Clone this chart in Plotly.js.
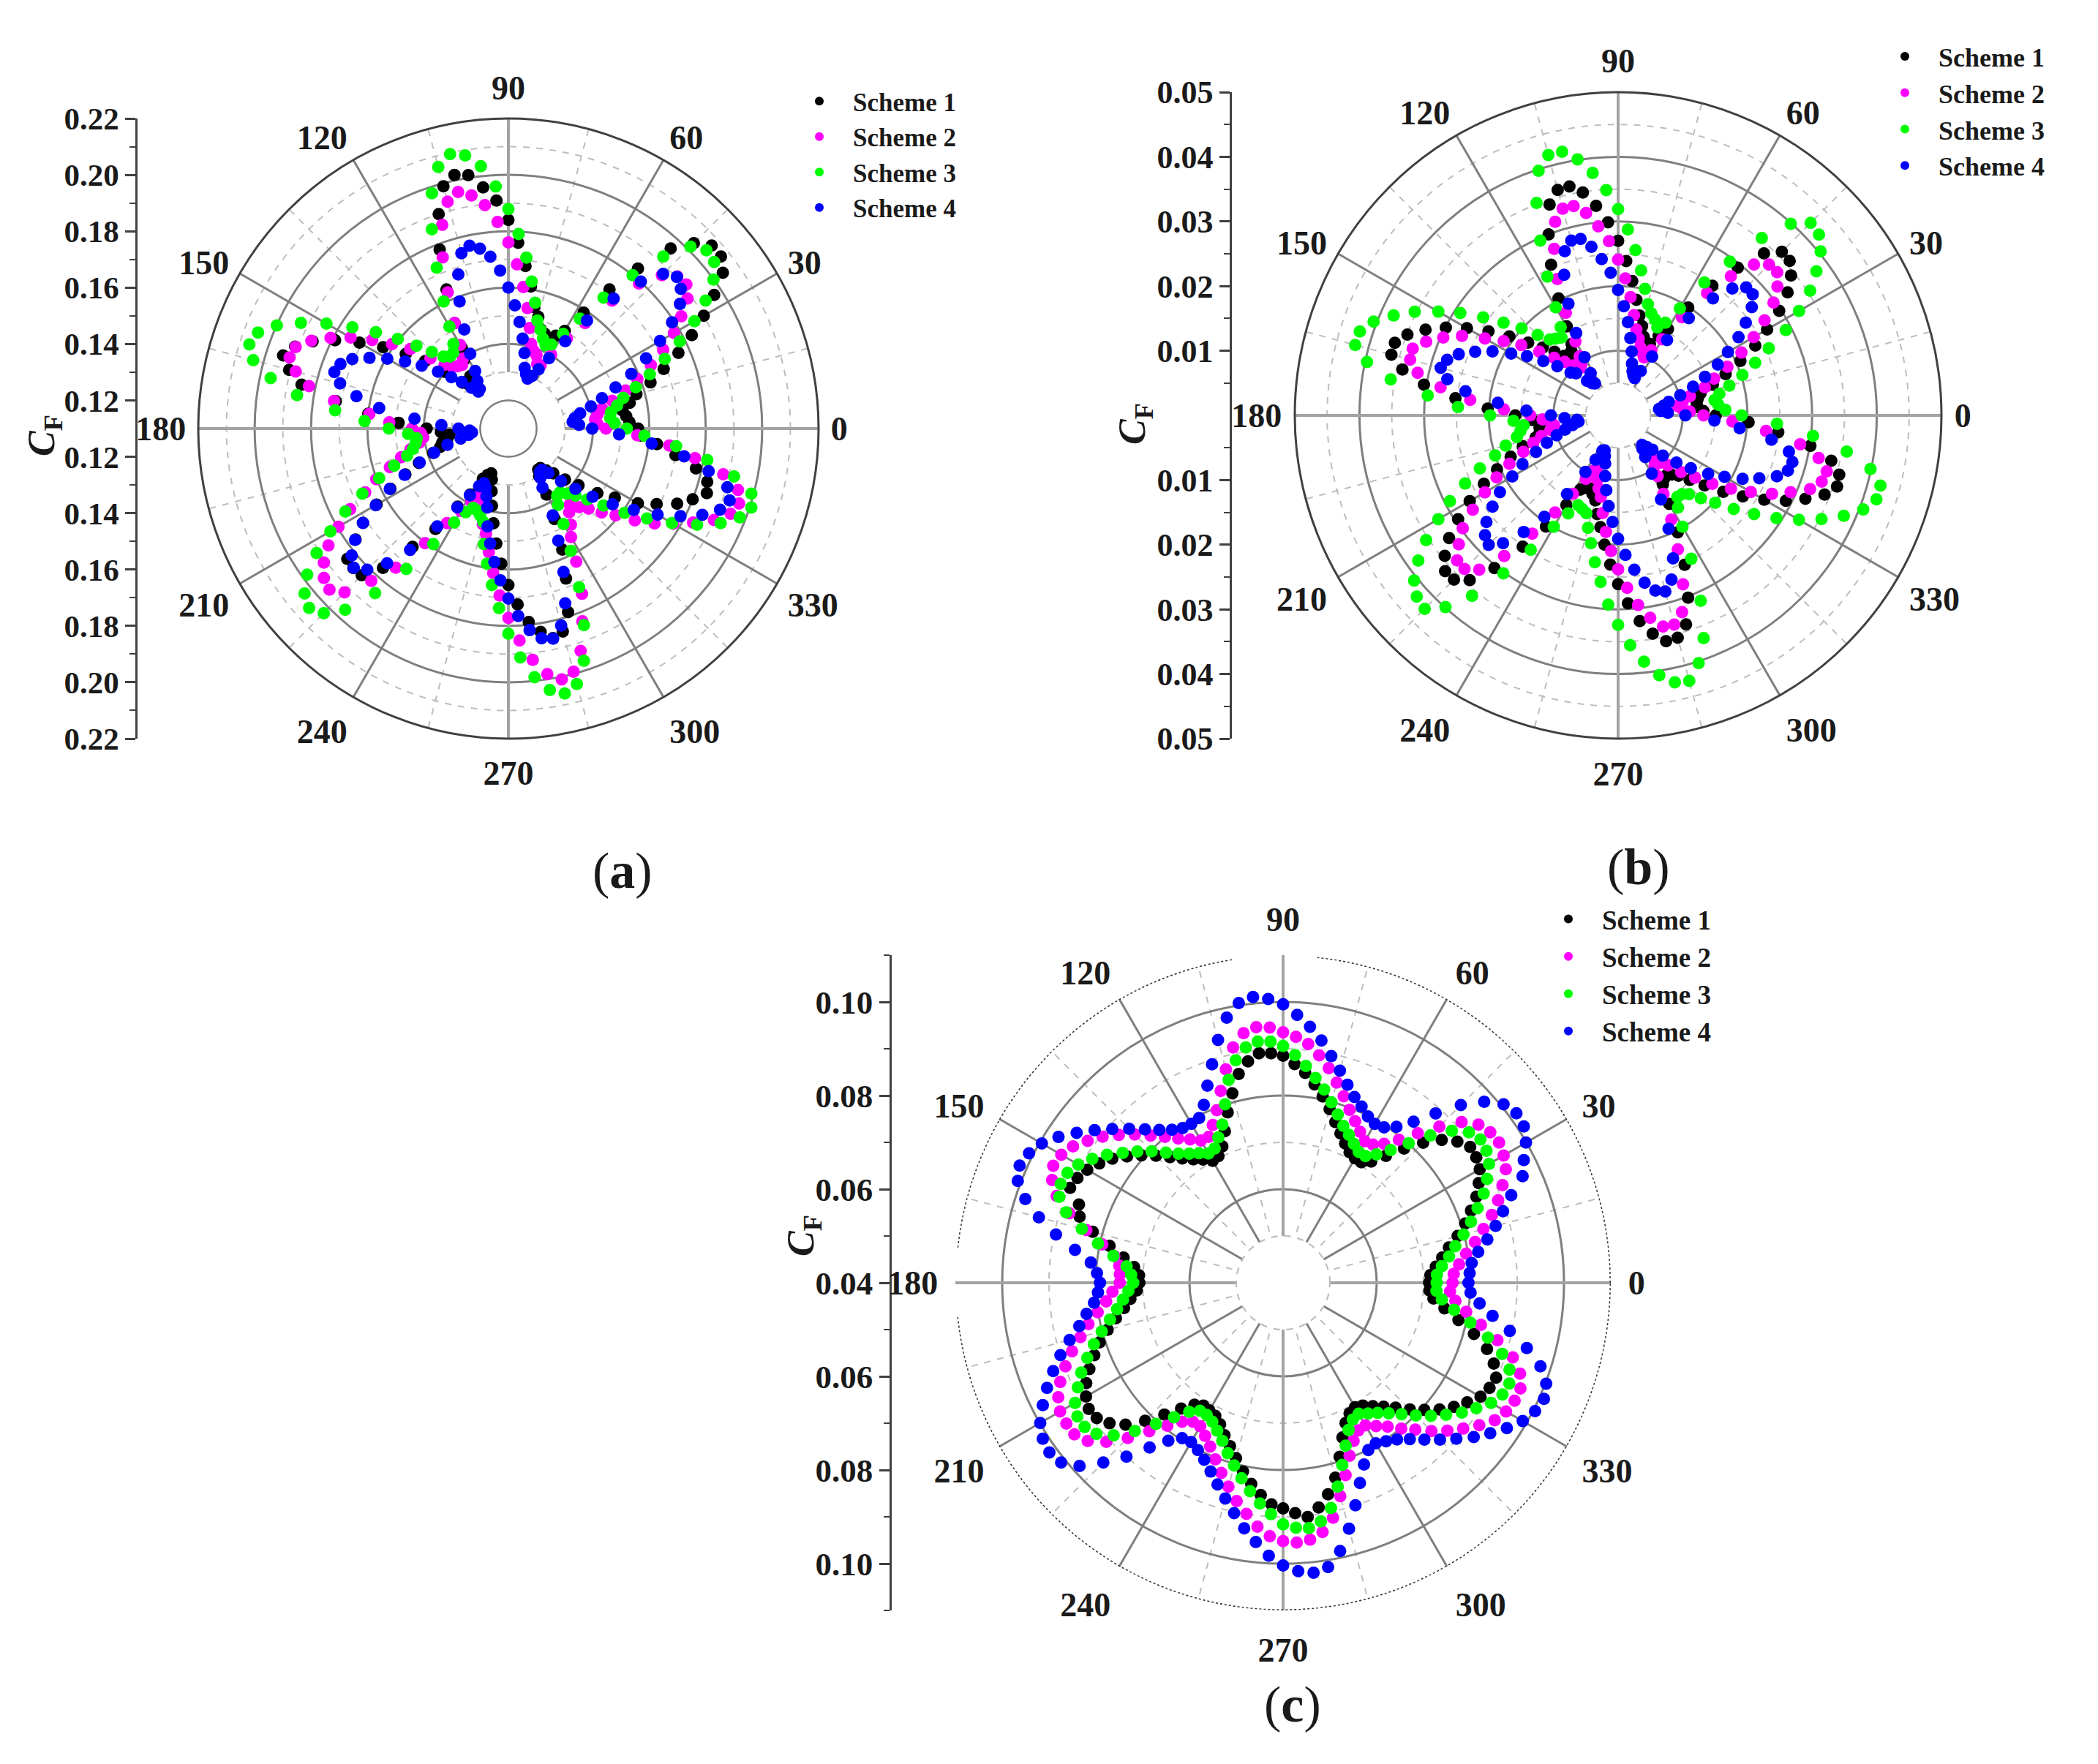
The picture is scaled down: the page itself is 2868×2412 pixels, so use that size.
<!DOCTYPE html>
<html>
<head>
<meta charset="utf-8">
<script src="https://cdn.plot.ly/plotly-3.0.1.min.js"></script>
<style>body{margin:0;background:#fff}</style>
</head>
<body>
<div id="chart" style="width:2868px;height:2412px"></div>
<script>
//------------------------------------------------------------------------------
// Data: CF against blade angle, one value every 3 degrees
//------------------------------------------------------------------------------
var angles = [0,3,6,9,12,15,18,21,24,27,30,33,36,39,42,45,48,51,54,57,
  60,63,66,69,72,75,78,81,84,87,90,93,96,99,102,105,108,111,114,117,
  120,123,126,129,132,135,138,141,144,147,150,153,156,159,162,165,168,171,174,177,
  180,183,186,189,192,195,198,201,204,207,210,213,216,219,222,225,228,231,234,237,
  240,243,246,249,252,255,258,261,264,267,270,273,276,279,282,285,288,291,294,297,
  300,303,306,309,312,315,318,321,324,327,330,333,336,339,342,345,348,351,354,357];

var schemes = ["Scheme 1", "Scheme 2", "Scheme 3", "Scheme 4"];
var angleTicks = [0,30,60,90,120,150,180,210,240,270,300,330];
var angleLabels = ["0","30","60","90","120","150","180","210","240","270","300","330"];
var crossAngles = [0,90,180,270];

// panel (a)
var a1 = [.156,.153,.152,.151,.154,.157,.163,.169,.176,.183,.190,.197,.204,.207,.207,.203,.196,.183,.171,.159,
  .150,.147,.145,.146,.147,.151,.154,.161,.168,.176,.184,.191,.196,.201,.202,.199,.190,.178,.164,.152,
  .143,.139,.133,.130,.131,.133,.140,.148,.155,.163,.171,.179,.186,.191,.194,.1905,.185,.172,.160,.149,
  .139,.134,.131,.132,.134,.135,.138,.144,.150,.157,.164,.1715,.177,.1835,.184,.1836,.1765,.164,.154,.143,
  .137,.130,.128,.127,.129,.133,.138,.144,.151,.158,.1655,.1725,.179,.183,.186,.1845,.1785,.167,.157,.146,
  .137,.130,.128,.128,.130,.1325,.137,.142,.149,.155,.163,.169,.1755,.180,.184,.183,.178,.170,.163,.157];
var a2 = [.1446,.1416,.1409,.1420,.1440,.1481,.1537,.1590,.1653,.1716,.1778,.1831,.1885,.1912,.1906,.1870,.1792,.1684,.1563,.1481,
  .1403,.1352,.1351,.1378,.1390,.1411,.1465,.1533,.1605,.1683,.1760,.1834,.1897,.1937,.1958,.1933,.1860,.1750,.1629,.1520,
  .1442,.1396,.1379,.1385,.1396,.1420,.1472,.1548,.1610,.1676,.1746,.1808,.1865,.1908,.1916,.1881,.1823,.1726,.1596,.1523,
  .1442,.1411,.1404,.1420,.1455,.1494,.1542,.1602,.1656,.1730,.1796,.1861,.1909,.1942,.1954,.1922,.1827,.1735,.1603,.1500,
  .1437,.1390,.1366,.1360,.1390,.1451,.1482,.1544,.1615,.1693,.1772,.1853,.1925,.1982,.2010,.1993,.1929,.1832,.1742,.1630,
  .1544,.1507,.1467,.1446,.1475,.1502,.1545,.1589,.1654,.1718,.1775,.1835,.1898,.1944,.1960,.1943,.1879,.1770,.1674,.1558];
var a3 = [.1520,.1477,.1463,.1468,.1494,.1522,.1575,.1637,.1707,.1782,.1862,.1934,.1999,.2039,.2045,.2013,.1921,.1800,.1674,.1565,
  .1488,.1435,.1424,.1442,.1468,.1497,.1556,.1628,.1710,.1791,.1879,.1960,.2036,.2081,.2095,.2061,.1978,.1857,.1725,.1606,
  .1518,.1458,.1433,.1429,.1444,.1484,.1539,.1605,.1681,.1760,.1845,.1926,.1999,.2051,.2066,.2037,.1962,.1859,.1718,.1611,
  .1524,.1456,.1427,.1433,.1446,.1472,.1526,.1591,.1667,.1749,.1829,.1911,.1982,.2030,.2051,.2026,.1965,.1851,.1716,.1589,
  .1485,.1433,.1408,.1411,.1424,.1443,.1519,.1585,.1658,.1738,.1828,.1913,.1987,.2039,.2061,.2038,.1966,.1847,.1716,.1587,
  .1491,.1423,.1394,.1391,.1411,.1437,.1476,.1534,.1609,.1686,.1770,.1851,.1924,.1979,.2006,.1992,.1918,.1814,.1698,.1583];
var a4 = [.1397,.1351,.1329,.1338,.1360,.1403,.1449,.1507,.1577,.1648,.1721,.1792,.1852,.1887,.1904,.1876,.1802,.1693,.1574,.1470,
  .1388,.1336,.1304,.1290,.1303,.1323,.1374,.1423,.1480,.1538,.1600,.1661,.1713,.1746,.1763,.1744,.1675,.1583,.1485,.1398,
  .1336,.1302,.1273,.1269,.1295,.1334,.1372,.1421,.1480,.1537,.1596,.1653,.1706,.1738,.1749,.1718,.1651,.1564,.1435,.1338,
  .1277,.1238,.1230,.1243,.1273,.1324,.1377,.1437,.1503,.1572,.1643,.1715,.1772,.1815,.1838,.1808,.1743,.1654,.1529,.1433,
  .1373,.1329,.1312,.1325,.1352,.1390,.1455,.1513,.1576,.1639,.1703,.1766,.1819,.1853,.1862,.1823,.1752,.1645,.1535,.1446,
  .1342,.1308,.1290,.1289,.1312,.1364,.1420,.1484,.1557,.1630,.1711,.1785,.1853,.1904,.1925,.1904,.1826,.1731,.1611,.1493];

// panel (b)
var b1 = [.0151,.0132,.0123,.0123,.0126,.0132,.0154,.0178,.0207,.0238,.0266,.0297,.0324,.0344,.0357,.0358,.0337,.0294,.0248,.0199,
  .0154,.0138,.0121,.0121,.0128,.0143,.0158,.0181,.0209,.0239,.0270,.0299,.0326,.0349,.0362,.0361,.0343,.0300,.0255,.0203,
  .0159,.0132,.0123,.0117,.0124,.0139,.0157,.0179,.0208,.0239,.0270,.0299,.0326,.0349,.0363,.0363,.0341,.0304,.0253,.0202,
  .0159,.0133,.0122,.0123,.0124,.0132,.0155,.0178,.0205,.0233,.0265,.0295,.0323,.0345,.0360,.0359,.0343,.0304,.0251,.0205,
  .0160,.0129,.0123,.0121,.0128,.0136,.0156,.0175,.0201,.0231,.0261,.0291,.0320,.0342,.0357,.0356,.0340,.0302,.0253,.0203,
  .0158,.0127,.0121,.0119,.0123,.0132,.0149,.0172,.0201,.0230,.0261,.0291,.0317,.0342,.0356,.0354,.0337,.0301,.0249,.0202];
var b2 = [.0132,.0111,.0099,.0093,.0102,.0115,.0141,.0159,.0185,.0214,.0242,.0270,.0297,.0317,.0331,.0330,.0314,.0277,.0234,.0181,
  .0136,.0113,.0098,.0104,.0111,.0123,.0136,.0157,.0184,.0212,.0241,.0270,.0294,.0317,.0331,.0331,.0315,.0276,.0231,.0178,
  .0132,.0109,.0097,.0094,.0104,.0117,.0133,.0157,.0185,.0211,.0238,.0271,.0296,.0318,.0334,.0333,.0317,.0278,.0230,.0177,
  .0136,.0117,.0104,.0100,.0107,.0123,.0138,.0157,.0184,.0211,.0238,.0268,.0297,.0317,.0335,.0336,.0321,.0280,.0226,.0179,
  .0140,.0110,.0094,.0092,.0104,.0117,.0129,.0153,.0181,.0210,.0238,.0267,.0295,.0317,.0334,.0335,.0320,.0280,.0227,.0181,
  .0140,.0112,.0096,.0090,.0098,.0109,.0131,.0153,.0180,.0208,.0237,.0267,.0292,.0318,.0331,.0334,.0317,.0285,.0230,.0177];
var b3 = [.0191,.0166,.0156,.0151,.0160,.0178,.0202,.0227,.0255,.0291,.0323,.0354,.0379,.0403,.0418,.0421,.0399,.0353,.0294,.0245,
  .0191,.0161,.0149,.0159,.0166,.0178,.0200,.0227,.0257,.0288,.0319,.0349,.0377,.0401,.0417,.0417,.0398,.0352,.0296,.0241,
  .0193,.0163,.0149,.0153,.0158,.0176,.0201,.0228,.0258,.0291,.0321,.0353,.0380,.0405,.0420,.0421,.0397,.0356,.0296,.0248,
  .0198,.0162,.0147,.0153,.0160,.0180,.0200,.0229,.0259,.0292,.0321,.0354,.0382,.0406,.0419,.0423,.0399,.0359,.0302,.0248,
  .0199,.0170,.0152,.0155,.0159,.0180,.0202,.0230,.0259,.0293,.0324,.0356,.0383,.0407,.0422,.0425,.0403,.0369,.0314,.0249,
  .0199,.0170,.0156,.0157,.0164,.0181,.0202,.0230,.0260,.0292,.0323,.0353,.0382,.0406,.0420,.0420,.0399,.0358,.0303,.0246];
var b4 = [.0104,.0077,.0066,.0064,.0072,.0081,.0101,.0124,.0147,.0173,.0196,.0222,.0244,.0266,.0280,.0280,.0264,.0233,.0186,.0139,
  .0105,.0077,.0063,.0066,.0072,.0083,.0101,.0121,.0145,.0169,.0194,.0221,.0243,.0264,.0279,.0280,.0267,.0233,.0189,.0143,
  .0104,.0078,.0061,.0064,.0072,.0092,.0099,.0121,.0143,.0168,.0191,.0218,.0242,.0264,.0278,.0284,.0270,.0239,.0187,.0142,
  .0104,.0083,.0064,.0062,.0072,.0085,.0100,.0118,.0139,.0166,.0189,.0218,.0240,.0262,.0277,.0283,.0266,.0232,.0194,.0145,
  .0101,.0077,.0060,.0058,.0066,.0077,.0096,.0117,.0141,.0165,.0191,.0216,.0240,.0262,.0277,.0282,.0267,.0237,.0192,.0146,
  .0104,.0077,.0064,.0059,.0066,.0075,.0093,.0116,.0139,.0166,.0190,.0216,.0239,.0263,.0276,.0279,.0270,.0240,.0189,.0149];

// panel (c)
var c1 = [.0712,.0715,.0728,.0744,.0762,.0786,.0809,.0830,.0852,.0869,.0885,.0892,.0894,.0879,.0856,.0823,.0786,.0749,.0720,.0707,
  .0707,.0713,.0726,.0742,.0761,.0784,.0807,.0829,.0851,.0868,.0885,.0891,.0893,.0879,.0856,.0819,.0783,.0747,.0719,.0704,
  .0701,.0714,.0726,.0742,.0761,.0784,.0807,.0829,.0851,.0868,.0883,.0893,.0898,.0867,.0857,.0821,.0779,.0745,.0720,.0708,
  .0707,.0713,.0728,.0744,.0765,.0788,.0812,.0832,.0853,.0872,.0886,.0895,.0892,.0877,.0853,.0817,.0779,.0746,.0722,.0713,
  .0715,.0719,.0731,.0749,.0767,.0788,.0812,.0835,.0856,.0874,.0882,.0893,.0903,.0886,.0862,.0831,.0791,.0754,.0728,.0713,
  .0707,.0713,.0726,.0741,.0759,.0783,.0806,.0830,.0851,.0869,.0887,.0895,.0898,.0882,.0858,.0822,.0783,.0749,.0723,.0713];
var c2 = [.0762,.0765,.0778,.0796,.0819,.0843,.0869,.0892,.0913,.0934,.0944,.0950,.0947,.0937,.0913,.0872,.0830,.0793,.0767,.0752,
  .0749,.0762,.0778,.0796,.0819,.0843,.0869,.0892,.0913,.0926,.0935,.0946,.0949,.0940,.0914,.0872,.0831,.0795,.0769,.0750,
  .0751,.0765,.0781,.0801,.0823,.0848,.0872,.0896,.0916,.0935,.0947,.0951,.0940,.0918,.0880,.0835,.0795,.0765,.0752,.0749,
  .0749,.0765,.0780,.0801,.0825,.0848,.0874,.0898,.0921,.0939,.0950,.0952,.0951,.0937,.0908,.0869,.0827,.0793,.0767,.0754,
  .0754,.0767,.0783,.0804,.0827,.0851,.0877,.0900,.0924,.0942,.0952,.0956,.0952,.0939,.0913,.0872,.0832,.0796,.0770,.0754,
  .0752,.0765,.0780,.0801,.0822,.0848,.0872,.0895,.0918,.0939,.0950,.0955,.0955,.0942,.0916,.0874,.0832,.0796,.0770,.0757];
var c3 = [.0728,.0729,.0741,.0759,.0776,.0799,.0822,.0845,.0869,.0889,.0908,.0918,.0921,.0911,.0885,.0845,.0801,.0765,.0739,.0723,
  .0723,.0733,.0746,.0759,.0778,.0799,.0822,.0843,.0866,.0887,.0906,.0916,.0918,.0909,.0886,.0849,.0801,.0762,.0740,.0722,
  .0719,.0730,.0741,.0755,.0774,.0797,.0819,.0841,.0865,.0886,.0905,.0917,.0920,.0912,.0887,.0845,.0804,.0767,.0736,.0725,
  .0720,.0731,.0744,.0759,.0778,.0801,.0825,.0848,.0872,.0892,.0913,.0924,.0924,.0913,.0887,.0848,.0806,.0770,.0741,.0726,
  .0726,.0733,.0746,.0762,.0783,.0804,.0827,.0851,.0874,.0895,.0916,.0924,.0927,.0916,.0892,.0851,.0809,.0773,.0744,.0728,
  .0723,.0733,.0744,.0759,.0778,.0801,.0825,.0848,.0872,.0892,.0913,.0926,.0929,.0918,.0892,.0853,.0809,.0770,.0741,.0728];
var c4 = [.0796,.0799,.0805,.0822,.0846,.0870,.0894,.0922,.0960,.0977,.0999,.1013,.1016,.1006,.0978,.0937,.0887,.0843,.0812,.0796,
  .0792,.0799,.0812,.0825,.0845,.0869,.0895,.0924,.0950,.0973,.0995,.1007,.1014,.1005,.0979,.0937,.0891,.0851,.0816,.0795,
  .0792,.0794,.0804,.0820,.0841,.0865,.0891,.0918,.0945,.0972,.0995,.1009,.1016,.1007,.0979,.0940,.0896,.0850,.0813,.0798,
  .0791,.0796,.0806,.0825,.0845,.0872,.0900,.0926,.0952,.0976,.0999,.1012,.1017,.1010,.0985,.0943,.0900,.0853,.0817,.0796,
  .0793,.0801,.0814,.0832,.0853,.0877,.0903,.0931,.0957,.0984,.1004,.1017,.1023,.1015,.0986,.0944,.0900,.0858,.0825,.0801,
  .0796,.0804,.0814,.0830,.0851,.0874,.0898,.0924,.0947,.0970,.0991,.1004,.1010,.1002,.0978,.0939,.0895,.0853,.0822,.0801];

// left hand scales: labelled values and the small ticks between them
var aLabels = [.22,.20,.18,.16,.14,.12];
var aMinor = [.21,.19,.17,.15,.13];
var bLabels = [.05,.04,.03,.02,.01];
var bMinor = [.045,.035,.025,.015,.005];
var cLabels = [.10,.08,.06,.04];
var cMinor = [.11,.09,.07,.05];

//------------------------------------------------------------------------------
// Page geometry and styles
//------------------------------------------------------------------------------
var W = 2868, H = 2412;
var colors = ["#000000", "#ff00ff", "#00ff00", "#0000ff"];
var serif = "Liberation Serif";
var black = "#1a1a1a";

var data = [];
var layout = {
  width: W, height: H,
  margin: { l: 0, r: 0, t: 0, b: 0 },
  paper_bgcolor: "white", plot_bgcolor: "rgba(0,0,0,0)",
  showlegend: true,
  annotations: []
};

function domainX(cx, R) { return [(cx - R) / W, (cx + R) / W]; }
function domainY(cy, R) { return [1 - (cy + R) / H, 1 - (cy - R) / H]; }

function addPanel(p) {
  var under = "polar" + (p.index * 2 - 1 === 1 ? "" : p.index * 2 - 1);
  var top = "polar" + (p.index * 2);
  var legendName = "legend" + (p.index === 1 ? "" : p.index);
  var xName = "x" + (p.index === 1 ? "" : p.index);
  var yName = "y" + (p.index === 1 ? "" : p.index);
  var rMin = p.range[0], rMax = p.range[1];

  // dashed minor grid, sits under the solid one
  data.push({ type: "scatterpolar", subplot: under, r: [rMax], theta: [0], mode: "markers",
    marker: { opacity: 0 }, showlegend: false, hoverinfo: "skip" });
  layout[under] = {
    domain: { x: domainX(p.cx, p.R), y: domainY(p.cy, p.R) },
    bgcolor: "white",
    radialaxis: { range: p.range, tick0: p.minorStart, dtick: p.dtick, griddash: "dash",
      gridcolor: "#bdbdbd", gridwidth: 2, showline: false, showticklabels: false, ticks: "" },
    angularaxis: { tick0: 15, dtick: 30, griddash: "dash", gridcolor: "#bdbdbd", gridwidth: 2,
      showline: false, showticklabels: false, ticks: "", rotation: 0, direction: "counterclockwise" }
  };

  // the horizontal and vertical spokes are wider and paler than the others
  crossAngles.forEach(function (t) {
    data.push({ type: "scatterpolar", subplot: top, theta: [t, t], r: [rMin, rMax], mode: "lines",
      line: { color: "#a3a3a3", width: 4 }, showlegend: false, hoverinfo: "skip" });
  });

  // white middle that stops the spokes, with its dashed edge
  var discTheta = angles.concat([360]);
  data.push({ type: "scatterpolar", subplot: top, theta: discTheta,
    r: discTheta.map(function () { return p.disc; }), mode: "lines", fill: "toself",
    fillcolor: "white", line: { color: "#bdbdbd", width: 2, dash: "dash" },
    showlegend: false, hoverinfo: "skip" });

  if (p.innerRing) {
    data.push({ type: "scatterpolar", subplot: top, theta: discTheta,
      r: discTheta.map(function () { return p.innerRing; }), mode: "lines",
      line: { color: "#7f7f7f", width: 2.5 }, showlegend: false, hoverinfo: "skip" });
  }

  // panel (c) has a broken, dotted outer edge
  if (p.dottedEdge) {
    var edgeTheta = [], edgeR = [];
    angles.concat([360]).forEach(function (t) {
      edgeTheta.push(t);
      edgeR.push((t > 84 && t < 97) || (t > 175 && t < 185) ? null : rMax);
    });
    data.push({ type: "scatterpolar", subplot: top, theta: edgeTheta, r: edgeR, mode: "lines",
      line: { color: "#333333", width: 3, dash: "dot" }, showlegend: false, hoverinfo: "skip" });
  }

  p.series.forEach(function (values, i) {
    data.push({ type: "scatterpolar", subplot: top, name: schemes[i], r: values, theta: angles,
      mode: "markers", marker: { color: colors[i], size: 17, line: { width: 0 } },
      legend: legendName });
  });

  layout[top] = {
    domain: { x: domainX(p.cx, p.R), y: domainY(p.cy, p.R) },
    bgcolor: "rgba(0,0,0,0)",
    radialaxis: { range: p.range, tick0: p.majorStart, dtick: p.dtick, gridcolor: "#7f7f7f",
      gridwidth: 2.5, showline: false, showticklabels: false, ticks: "" },
    angularaxis: { tickmode: "array", tickvals: angleTicks, ticktext: angleLabels,
      gridcolor: "#7f7f7f", gridwidth: 2.5, showline: !p.dottedEdge, linecolor: "#404040", linewidth: 3,
      ticks: "outside", ticklen: p.labelGap, tickcolor: "rgba(0,0,0,0)", rotation: 0, direction: "counterclockwise",
      tickfont: { family: serif, size: 46, color: black, weight: 700 } }
  };

  layout[legendName] = {
    x: p.legendX / W, y: 1 - p.legendY / H, xanchor: "left", yanchor: "top",
    bgcolor: "rgba(0,0,0,0)", borderwidth: 0, itemsizing: "constant", itemwidth: 82,
    font: { family: serif, size: p.legendSize, color: black, weight: 700 }
  };

  // left scale, mirrored about the polar centre and measured from it
  var tickvals = [], ticktext = [], minorvals = [];
  p.labels.forEach(function (v) {
    tickvals.push(v - rMin); ticktext.push(v.toFixed(2));
    if (v !== rMin) { tickvals.push(rMin - v); ticktext.push(v.toFixed(2)); }
  });
  p.minor.forEach(function (v) { minorvals.push(v - rMin); minorvals.push(rMin - v); });

  data.push({ type: "scatter", x: [0], y: [0], xaxis: xName, yaxis: yName, mode: "markers",
    marker: { opacity: 0 }, showlegend: false, hoverinfo: "skip" });
  var xKey = "xaxis" + (p.index === 1 ? "" : p.index);
  var yKey = "yaxis" + (p.index === 1 ? "" : p.index);
  layout[xKey] = { visible: false, domain: [p.axisX / W, (p.axisX + 20) / W], anchor: yName, fixedrange: true };
  layout[yKey] = {
    domain: domainY(p.cy, p.R), range: [rMin - rMax, rMax - rMin], anchor: "free", position: p.axisX / W,
    side: "left", showgrid: false, zeroline: false, showline: true, linecolor: "#404040", linewidth: 2.5,
    tickmode: "array", tickvals: tickvals, ticktext: ticktext, ticks: "outside", ticklen: 14,
    tickwidth: 2.5, tickcolor: "#404040",
    tickfont: { family: serif, size: p.tickSize, color: black, weight: 700 },
    minor: { tickmode: "array", tickvals: minorvals, ticks: "outside", ticklen: 8, tickwidth: 2, tickcolor: "#404040" }
  };

  layout.annotations.push({ xref: "paper", yref: "paper", x: p.titleX / W, y: 1 - p.titleY / H,
    xanchor: "center", yanchor: "middle", text: "<b><i>C</i><sub>F</sub></b>", textangle: -90, showarrow: false,
    font: { family: serif, size: 52, color: black } });
  layout.annotations.push({ xref: "paper", yref: "paper", x: p.tagX / W, y: 1 - p.tagY / H,
    xanchor: "center", yanchor: "middle", text: "(<b>" + p.tag + "</b>)", showarrow: false,
    font: { family: serif, size: 70, color: black } });
}

addPanel({ index: 1, tag: "a", series: [a1, a2, a3, a4], labels: aLabels, minor: aMinor,
  cx: 695, cy: 586, R: 424, range: [.11, .22], dtick: .02, majorStart: .12, minorStart: .13,
  disc: .13, innerRing: .12, axisX: 186, tickSize: 43, labelGap: 6, legendSize: 35,
  legendX: 1074, legendY: 109, titleX: 60, titleY: 596, tagX: 851, tagY: 1190 });

addPanel({ index: 2, tag: "b", series: [b1, b2, b3, b4], labels: bLabels, minor: bMinor,
  cx: 2212, cy: 568, R: 442, range: [0, .05], dtick: .01, majorStart: 0, minorStart: .005,
  disc: .005, axisX: 1682, tickSize: 44, labelGap: 7, legendSize: 36,
  legendX: 2558, legendY: 47, titleX: 1551, titleY: 580, tagX: 2240, tagY: 1185 });

addPanel({ index: 3, tag: "c", series: [c1, c2, c3, c4], labels: cLabels, minor: cMinor,
  cx: 1754, cy: 1754, R: 448, range: [.04, .11], dtick: .02, majorStart: .06, minorStart: .05,
  disc: .05, dottedEdge: true, axisX: 1217, tickSize: 45, labelGap: 14, legendSize: 37,
  legendX: 2098, legendY: 1226, titleX: 1098, titleY: 1690, tagX: 1767, tagY: 2330 });

Plotly.newPlot("chart", data, layout, { displayModeBar: false });
</script>
</body>
</html>
